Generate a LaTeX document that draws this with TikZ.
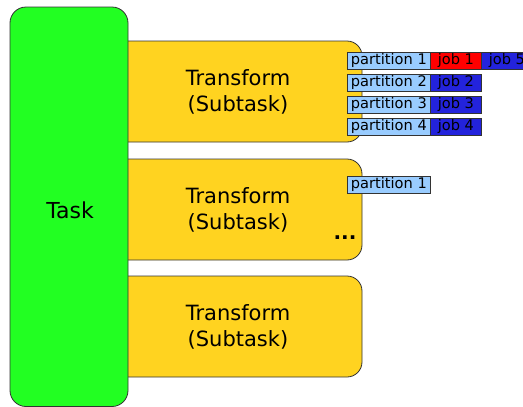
\documentclass[tikz,border=0pt]{standalone}
\usepackage{fontspec}
\setmainfont{DejaVu Sans}
\definecolor{taskgreen}{RGB}{34,255,34}
\definecolor{subyellow}{RGB}{255,211,32}
\definecolor{partblue}{RGB}{153,204,255}
\definecolor{jobblue}{RGB}{35,35,220}
\definecolor{jobred}{RGB}{255,0,0}
\definecolor{edge}{RGB}{51,51,51}
\begin{document}
\begin{tikzpicture}[x=1pt,y=-1pt,
  outline/.style={draw=edge,line width=0.8pt},
  bigtext/.style={font=\fontsize{21}{26}\selectfont,align=center,inner sep=0pt},
  partbox/.style={outline,fill=partblue,anchor=north west,minimum width=83pt,minimum height=17pt,inner sep=0pt,font=\fontsize{14.6}{16}\selectfont},
  jobbox/.style={outline,anchor=north west,minimum width=51pt,minimum height=17pt,inner sep=0pt,font=\fontsize{14.6}{16}\selectfont}
]
\useasboundingbox (0,0) rectangle (523,407);
% subtask boxes
\fill[subyellow,rounded corners=15pt] (110,41) -- (362,41) -- (362,142) -- (110,142) -- cycle;
\draw[outline,rounded corners=15pt] (128,41) -- (362,41) -- (362,142) -- (128,142);
\fill[subyellow,rounded corners=15pt] (110,159) -- (362,159) -- (362,260) -- (110,260) -- cycle;
\draw[outline,rounded corners=15pt] (128,159) -- (362,159) -- (362,260) -- (128,260);
\fill[subyellow,rounded corners=15pt] (110,276) -- (362,276) -- (362,377) -- (110,377) -- cycle;
\draw[outline,rounded corners=15pt] (128,276) -- (362,276) -- (362,377) -- (128,377);
\node[bigtext] (s1) at (238,92) {Transform\\(Subtask)};
\node[bigtext] (s2) at (238,210) {Transform\\(Subtask)};
\node[bigtext] (s3) at (238,327) {Transform\\(Subtask)};
\node[inner sep=0pt,font=\fontsize{20}{24}\selectfont\bfseries] (dots) at (345,238) {...};
% task box
\draw[outline,fill=taskgreen,rounded corners=16pt] (10,7) rectangle (128,406.5);
\node[font=\fontsize{22}{26}\selectfont,inner sep=0pt] (task) at (70,210) {Task};
% partitions
\node[partbox] (p1) at (347,52) {partition 1};
\node[jobbox,fill=jobred] (j1) at (430,52) {job 1};
\node[jobbox,fill=jobblue] (j5) at (481,52) {job 5};
\node[partbox] (p2) at (347,74) {partition 2};
\node[jobbox,fill=jobblue] (j2) at (430,74) {job 2};
\node[partbox] (p3) at (347,96) {partition 3};
\node[jobbox,fill=jobblue] (j3) at (430,96) {job 3};
\node[partbox] (p4) at (347,118) {partition 4};
\node[jobbox,fill=jobblue] (j4) at (430,118) {job 4};
\node[partbox] (q1) at (347,176) {partition 1};
\end{tikzpicture}
\end{document}
